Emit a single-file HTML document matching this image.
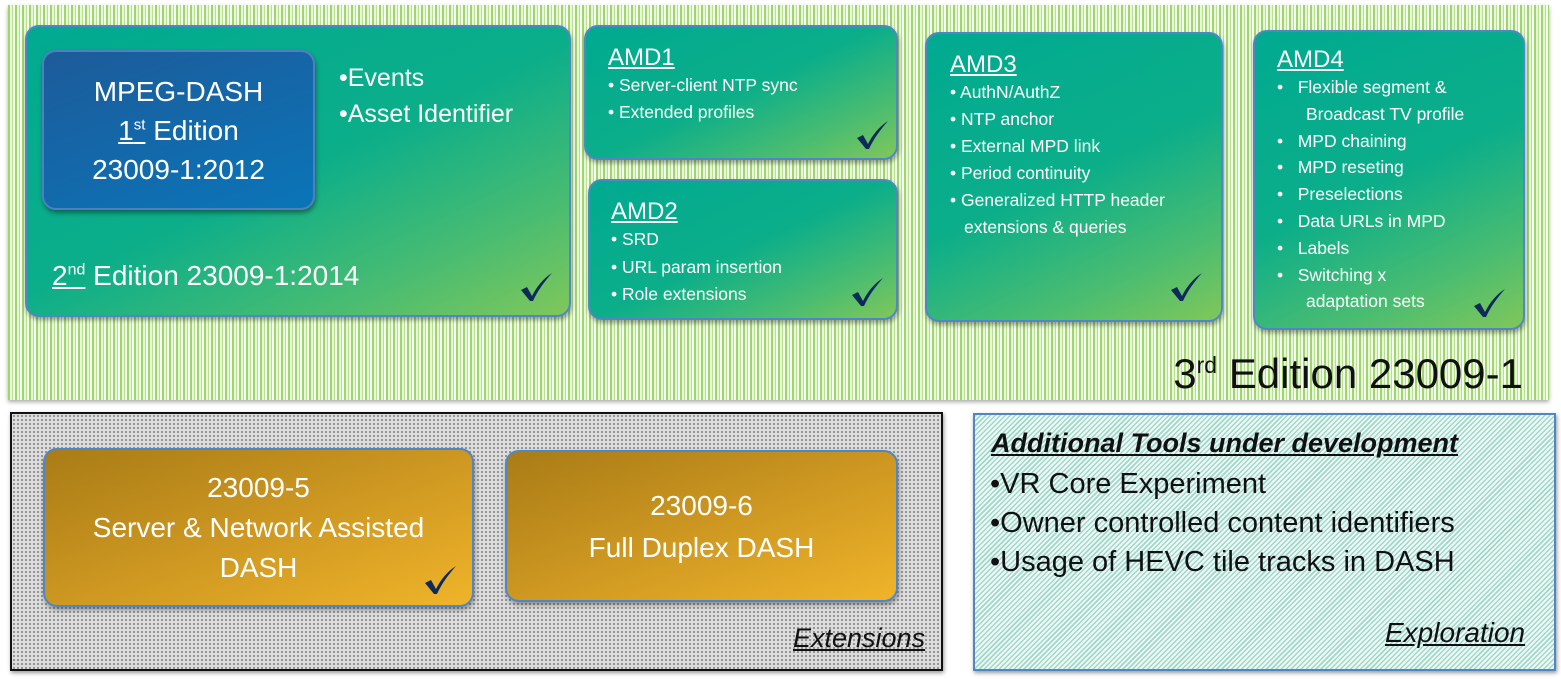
<!DOCTYPE html>
<html><head><meta charset="utf-8"><style>
*{margin:0;padding:0;box-sizing:border-box}
body{width:1561px;height:679px;background:#fff;position:relative;overflow:hidden;font-family:"Liberation Sans",sans-serif;color:#fff}
.a{position:absolute}
.outer{left:8px;top:5px;width:1541px;height:395px;background:repeating-linear-gradient(90deg,#9fd66b 0 2px,#e8f5dc 2px 4px,#b8e08e 4px 5px,#f5fbef 5px 7px);box-shadow:0 2px 4px #aaa}
.t{border-radius:14px;border:2px solid #4f86c6;background:linear-gradient(155deg,#00aa90 0%,#0cae8a 50%,#4cbd70 80%,#80c75a 100%);box-shadow:1px 3px 5px rgba(0,0,0,.35)}
.t h3{font-weight:normal;text-decoration:underline;font-size:24px;line-height:26px;margin-bottom:1px}
.t ul{list-style:none;font-size:17.5px;line-height:27px;white-space:nowrap}
.t li:before{content:"• ";}
.t li.ind:before{content:""}
.ck{position:absolute;width:34px;height:30px}
.gold{border-radius:14px;border:2px solid #4f86c6;background:linear-gradient(160deg,#a97c16 0%,#c99420 45%,#f0b42a 100%);box-shadow:1px 3px 5px rgba(0,0,0,.35);text-align:center;font-size:28px;line-height:40px;white-space:nowrap}
</style></head><body>
<svg width="0" height="0" style="position:absolute"><defs><symbol id="c" viewBox="0 0 34 30"><path d="M2 18 L8 15 L13 24 C18 14 25 6 33 1 C26 9 19 18 14 29 L11 29 Z" fill="#0e2a5a"/></symbol></defs></svg>

<div class="a outer"></div>

<div class="a t" style="left:25px;top:25px;width:546px;height:292px"></div>
<div class="a" style="left:42px;top:50px;width:273px;height:160px;border-radius:14px;border:2px solid #4f7fc0;background:linear-gradient(160deg,#1d5b9a,#0a75b8);box-shadow:1px 3px 5px rgba(0,0,0,.4);text-align:center;font-size:28px;line-height:39px;padding-top:20px">MPEG-DASH<br><span style="text-decoration:underline">1<sup style="font-size:15px;line-height:0">st</sup></span> Edition<br>23009-1:2012</div>
<div class="a" style="left:339px;top:60px;font-size:25px;line-height:36px">•Events<br>•Asset Identifier</div>
<div class="a" style="left:52px;top:260px;font-size:28px"><span style="text-decoration:underline">2<sup style="font-size:16px;line-height:0">nd</sup></span> Edition 23009-1:2014</div>
<svg class="ck" style="left:519px;top:272px"><use href="#c"/></svg>

<div class="a t" style="left:584px;top:25px;width:314px;height:135px;padding:18px 0 0 22px"><h3>AMD1</h3><ul><li>Server-client NTP sync</li><li>Extended profiles</li></ul></div>
<svg class="ck" style="left:855px;top:120px"><use href="#c"/></svg>

<div class="a t" style="left:588px;top:179px;width:310px;height:141px;padding:18px 0 0 21px"><h3>AMD2</h3><ul style="line-height:27.5px"><li>SRD</li><li>URL param insertion</li><li>Role extensions</li></ul></div>
<svg class="ck" style="left:850px;top:277px"><use href="#c"/></svg>

<div class="a t" style="left:925px;top:32px;width:298px;height:290px;padding:18px 0 0 23px"><h3>AMD3</h3><ul><li>AuthN/AuthZ</li><li>NTP anchor</li><li>External MPD link</li><li>Period continuity</li><li>Generalized HTTP header</li><li class="ind" style="padding-left:14px">extensions &amp; queries</li></ul></div>
<svg class="ck" style="left:1169px;top:272px"><use href="#c"/></svg>

<div class="a t" style="left:1253px;top:30px;width:272px;height:300px;padding:15px 0 0 22px"><h3>AMD4</h3><ul style="line-height:26.8px"><li>&nbsp;&nbsp;Flexible segment &amp;</li><li class="ind" style="padding-left:29px">Broadcast TV profile</li><li>&nbsp;&nbsp;MPD chaining</li><li>&nbsp;&nbsp;MPD reseting</li><li>&nbsp;&nbsp;Preselections</li><li>&nbsp;&nbsp;Data URLs in MPD</li><li>&nbsp;&nbsp;Labels</li><li>&nbsp;&nbsp;Switching x</li><li class="ind" style="padding-left:29px">adaptation sets</li></ul></div>
<svg class="ck" style="left:1472px;top:288px"><use href="#c"/></svg>

<div class="a" style="right:38px;top:350px;color:#111;font-size:42px;line-height:48px;white-space:nowrap">3<sup style="font-size:23px;line-height:0">rd</sup> Edition 23009-1</div>

<div class="a" style="left:10px;top:412px;width:933px;height:259px;border:2px solid #111;background-color:#dcdcdc;background-image:radial-gradient(#8a8a8a 0.9px,transparent 1.2px);background-size:4px 4px;box-shadow:1px 2px 4px #999"></div>
<div class="a gold" style="left:43px;top:448px;width:431px;height:159px;padding-top:18px">23009-5<br>Server &amp; Network Assisted<br>DASH</div>
<svg class="ck" style="left:423px;top:565px"><use href="#c"/></svg>
<div class="a gold" style="left:505px;top:450px;width:393px;height:152px;padding-top:33px;line-height:42px">23009-6<br>Full Duplex DASH</div>
<div class="a" style="left:793px;top:623px;color:#111;font-size:27px;font-style:italic;text-decoration:underline">Extensions</div>

<div class="a" style="left:973px;top:413px;width:583px;height:258px;border:2px solid #4f86c6;background:repeating-linear-gradient(135deg,#9fd8c8 0 1.5px,#eef8f4 1.5px 3.5px);box-shadow:1px 2px 4px #999"></div>
<div class="a" style="left:991px;top:428px;color:#111;font-size:27px;font-weight:bold;font-style:italic;text-decoration:underline;white-space:nowrap">Additional Tools under development</div>
<div class="a" style="left:990px;top:465px;color:#111;font-size:29px;line-height:39px;white-space:nowrap">•VR Core Experiment<br>•Owner controlled content identifiers<br>•Usage of HEVC tile tracks in DASH</div>
<div class="a" style="left:1385px;top:617px;color:#111;font-size:28px;font-style:italic;text-decoration:underline">Exploration</div>
</body></html>
